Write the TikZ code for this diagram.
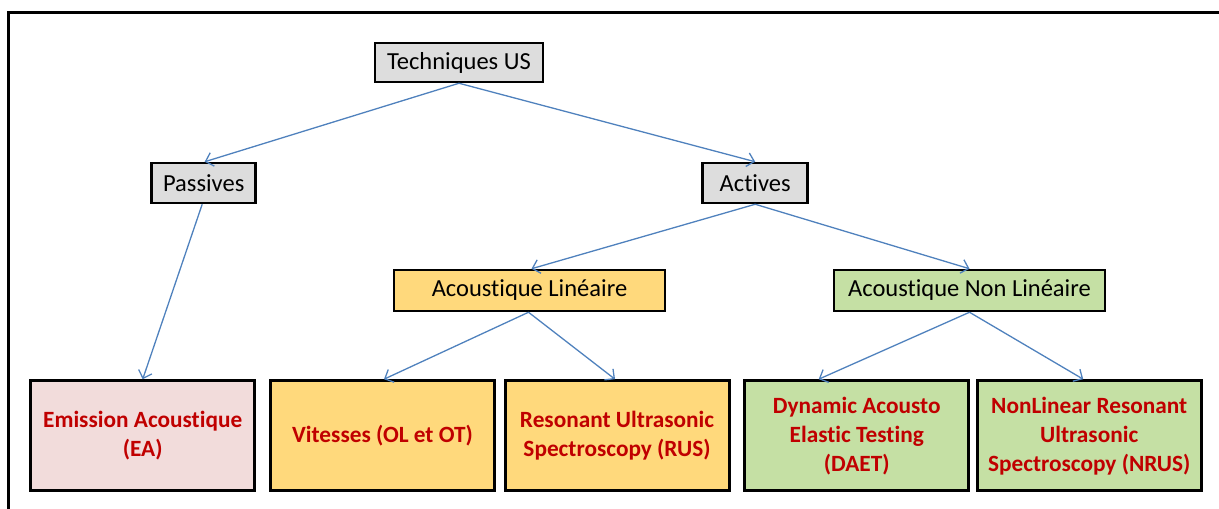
\documentclass[tikz,border=0pt]{standalone}
\usepackage{fontspec}
\setmainfont[Ligatures=NoCommon]{Carlito}
\usetikzlibrary{arrows.meta}
\definecolor{boxgray}{HTML}{DDDDDD}
\definecolor{boxpink}{HTML}{F2DCDB}
\definecolor{boxyellow}{HTML}{FFD97C}
\definecolor{boxgreen}{HTML}{C5E0A4}
\definecolor{txtred}{HTML}{C00000}
\definecolor{arrowblue}{HTML}{4F81BD}
\tikzset{
  topbox/.style={draw=black, line width=2.5pt, inner sep=0pt, minimum height=39pt,
    font=\fontsize{24.5}{29}\selectfont, text=black},
  leafbox/.style={draw=black, line width=3pt, inner sep=0pt, minimum height=110pt,
    minimum width=224pt, align=center, text=txtred,
    font=\fontsize{23.3}{29}\selectfont\bfseries},
  link/.style={draw=arrowblue, line width=1.3pt, -{Straight Barb[length=7pt,width=14pt,line width=1.3pt]}}
}
\begin{document}
\begin{tikzpicture}[x=1pt,y=-1pt]
\useasboundingbox (0,0) rectangle (1219,509);
% frame
\draw[line width=3pt, line cap=rect] (8.5,512) -- (8.5,12.5) -- (1222,12.5);
% upper nodes
\node[topbox, fill=boxgray, minimum width=168pt] (tech) at (459,62.5) {Techniques US};
\node[topbox, fill=boxgray, minimum width=104pt, minimum height=40pt] (pass) at (203.7,183) {Passives};
\node[topbox, fill=boxgray, minimum width=105pt, minimum height=40pt] (act) at (755.2,183) {Actives};
\node[topbox, fill=boxyellow, minimum width=271pt, minimum height=41pt] (lin) at (529.5,290.5) {Acoustique Linéaire};
\node[topbox, fill=boxgreen, minimum width=271pt, minimum height=41pt] (nl) at (969.5,290.5) {Acoustique Non Linéaire};
% leaves
\node[leafbox, fill=boxpink] (ea) at (142.7,435.7) {Emission Acoustique\\(EA)};
\node[leafbox, fill=boxyellow] (vit) at (382.5,435.7) {Vitesses (OL et OT)};
\node[leafbox, fill=boxyellow] (rus) at (617,435.7) {Resonant Ultrasonic\\Spectroscopy (RUS)};
\node[leafbox, fill=boxgreen] (daet) at (856.7,435.7) {Dynamic Acousto\\Elastic Testing\\(DAET)};
\node[leafbox, fill=boxgreen] (nrus) at (1089.2,435.7) {NonLinear Resonant\\Ultrasonic\\Spectroscopy (NRUS)};
% connectors
\draw[link] (tech.south) -- ([xshift=1pt]pass.north);
\draw[link] (tech.south) -- (act.north);
\draw[link] ([xshift=-1.5pt]pass.south) -- (ea.north);
\draw[link] (act.south) -- ([xshift=2pt]lin.north);
\draw[link] (act.south) -- (nl.north);
\draw[link] ([xshift=-1pt]lin.south) -- ([xshift=1.5pt]vit.north);
\draw[link] ([xshift=-1pt]lin.south) -- ([xshift=-2pt]rus.north);
\draw[link] (nl.south) -- ([xshift=-38pt]daet.north);
\draw[link] (nl.south) -- ([xshift=-6pt]nrus.north);
\end{tikzpicture}
\end{document}
